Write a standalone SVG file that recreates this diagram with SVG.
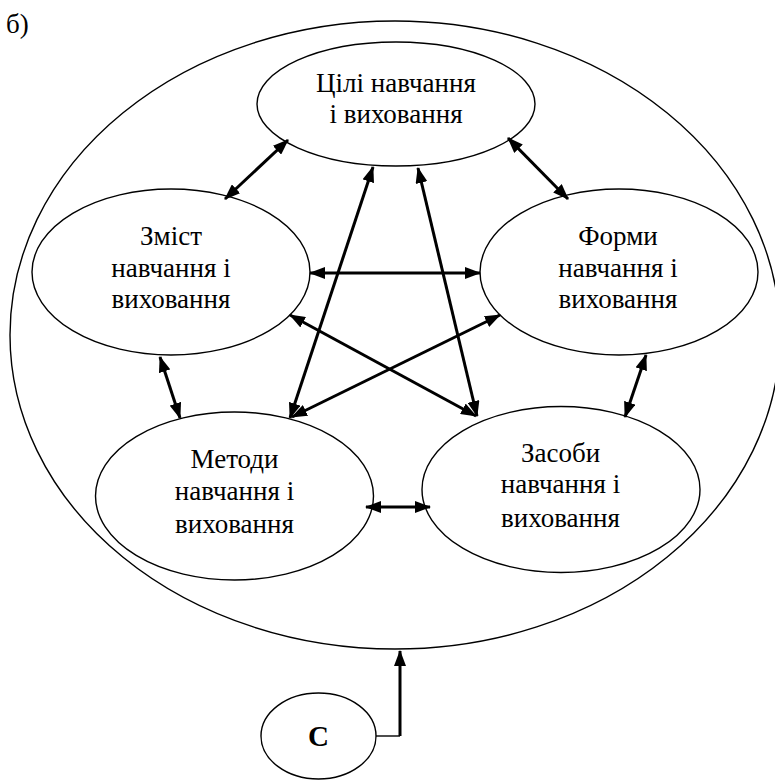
<svg xmlns="http://www.w3.org/2000/svg" width="775" height="782" viewBox="0 0 775 782">
<style>
.node{fill:#fff;stroke:#000;stroke-width:1.4}
.outer{fill:none;stroke:#000;stroke-width:1.4}
.t{font-family:"Liberation Serif","Times New Roman",serif;font-size:27px;fill:#000;text-anchor:middle}
.c{font-family:"Liberation Serif","Times New Roman",serif;font-size:29px;font-weight:bold;fill:#000;text-anchor:middle}
.ar{stroke:#000;stroke-width:3;fill:none;marker-start:url(#ah);marker-end:url(#ah)}
.one{stroke:#000;stroke-width:3;fill:none;marker-end:url(#ah)}
.thin{stroke:#000;stroke-width:1.4;fill:none}
</style>
<defs>
<marker id="ah" viewBox="0 0 16 12" refX="15" refY="6" markerWidth="16" markerHeight="12" markerUnits="userSpaceOnUse" orient="auto-start-reverse">
<path d="M0,0 L16,6 L0,12 Z" fill="#000"/>
</marker>
</defs>
<rect width="775" height="782" fill="#fff"/>
<text x="6" y="33" font-family="Liberation Serif, Times New Roman, serif" font-size="27" fill="#000">б)</text>
<g id="outer"><ellipse class="outer" cx="395" cy="335" rx="385" ry="314"/></g>
<g id="goals">
<ellipse class="node" cx="396" cy="104" rx="139" ry="62"/>
<text class="t" x="396" y="92">Цілі навчання</text>
<text class="t" x="396" y="123">і виховання</text>
</g>
<g id="content">
<ellipse class="node" cx="171" cy="272" rx="139" ry="83"/>
<text class="t" x="171" y="245">Зміст</text>
<text class="t" x="171" y="277">навчання і</text>
<text class="t" x="171" y="308">виховання</text>
</g>
<g id="forms">
<ellipse class="node" cx="619" cy="272" rx="139" ry="83"/>
<text class="t" x="618" y="245">Форми</text>
<text class="t" x="618" y="277">навчання і</text>
<text class="t" x="618" y="308">виховання</text>
</g>
<g id="methods">
<ellipse class="node" cx="234.5" cy="496" rx="139" ry="84"/>
<text class="t" x="234.5" y="468">Методи</text>
<text class="t" x="234.5" y="500">навчання і</text>
<text class="t" x="234.5" y="533">виховання</text>
</g>
<g id="means">
<ellipse class="node" cx="561" cy="489.5" rx="139" ry="83"/>
<text class="t" x="560.5" y="462">Засоби</text>
<text class="t" x="560.5" y="493">навчання і</text>
<text class="t" x="560.5" y="527">виховання</text>
</g>
<g id="society">
<ellipse class="node" cx="318.5" cy="736" rx="57.5" ry="43"/>
<text class="c" x="318.5" y="746">С</text>
</g>
<g id="connectors">
<line class="ar" x1="288" y1="140" x2="225" y2="199"/>
<line class="ar" x1="508" y1="138" x2="568" y2="199"/>
<line class="ar" x1="310" y1="273" x2="480" y2="273"/>
<line class="ar" x1="160" y1="357" x2="180" y2="418"/>
<line class="ar" x1="646" y1="355" x2="625" y2="417"/>
<line class="ar" x1="366" y1="507" x2="430" y2="507"/>
<line class="ar" x1="373" y1="167" x2="290" y2="418"/>
<line class="ar" x1="418" y1="168" x2="477" y2="416"/>
<line class="ar" x1="290" y1="315" x2="476" y2="416"/>
<line class="ar" x1="500" y1="315" x2="292" y2="417"/>
<polyline class="thin" points="376,736 400,736"/>
<line class="one" x1="400" y1="736" x2="400" y2="651"/>
</g>
</svg>
